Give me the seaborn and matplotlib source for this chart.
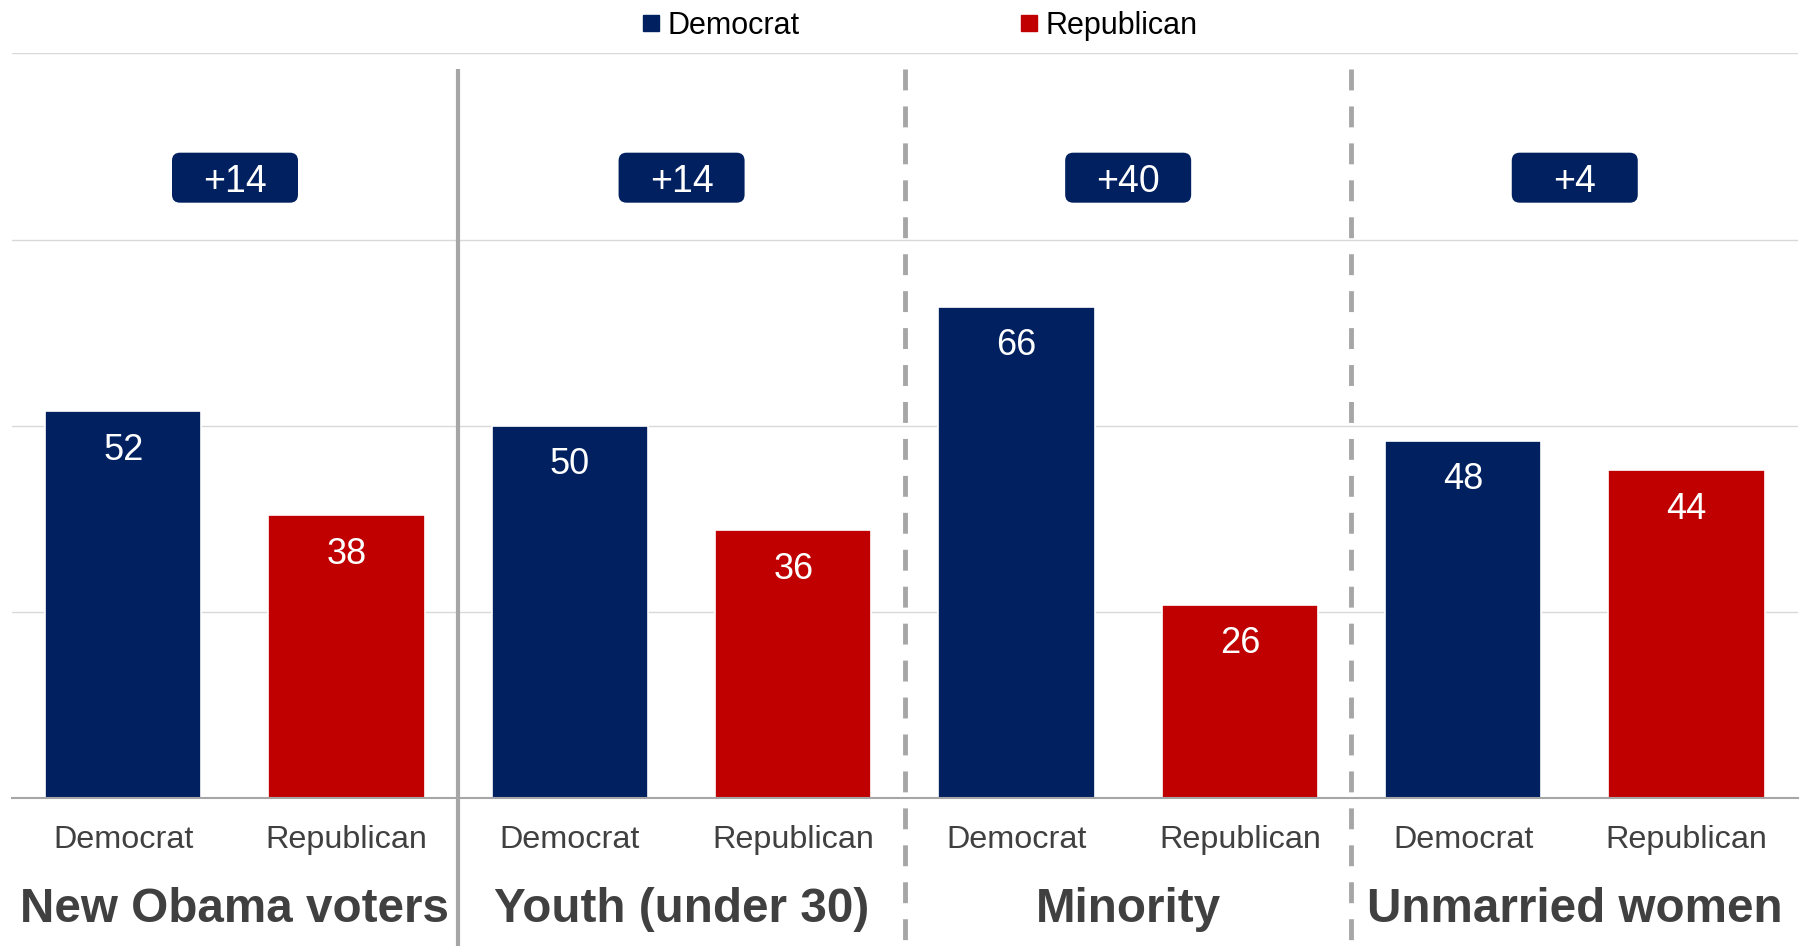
import numpy as np
import pandas as pd
import matplotlib
matplotlib.use("Agg")
import matplotlib.pyplot as plt
import matplotlib.transforms as mtransforms
from matplotlib.patches import FancyBboxPatch
from matplotlib.lines import Line2D
import seaborn as sns

# ---------------- data ----------------
groups = ["New Obama voters", "Youth (under 30)", "Minority", "Unmarried women"]
parties = ["Democrat", "Republican"]
dem_values = [52, 50, 66, 48]
rep_values = [38, 36, 26, 44]

NAVY = "#002060"
RED = "#C00000"
GRAY = "#a6a6a6"
TXT = "#404040"
colors = {"Democrat": NAVY, "Republican": RED}

sns.set_theme(style="white")
plt.rcParams["font.family"] = ["Liberation Sans", "DejaVu Sans"]

df = pd.DataFrame({
    "group": groups * 2,
    "party": ["Democrat"] * len(groups) + ["Republican"] * len(groups),
    "value": dem_values + rep_values,
})

fig = plt.figure(figsize=(18.08, 9.46), dpi=100)
ax = fig.add_axes([0.00647, 0.1561, 0.98803, 0.7876])

sns.barplot(data=df, x="group", y="value", hue="party", order=groups,
            hue_order=parties, palette=colors, width=1.0, gap=0.3,
            saturation=1, edgecolor="white", linewidth=1.2, errorbar=None,
            legend=False, ax=ax, zorder=2)

ax.set_ylim(0, 100)
ax.set_xlim(-0.5, len(groups) - 0.5)
ax.set_xlabel("")
ax.set_ylabel("")

# y grid
ax.set_yticks([0, 25, 50, 75, 100])
ax.set_yticklabels([])
ax.tick_params(axis="y", length=0)
ax.yaxis.grid(True, color="#d9d9d9", lw=1)
ax.xaxis.grid(False)
ax.set_axisbelow(True)

for s in ("left", "right", "top"):
    ax.spines[s].set_visible(False)
ax.spines["bottom"].set_color(GRAY)
ax.spines["bottom"].set_linewidth(1.5)

# x ticks: party labels under each bar, tick marks at category boundaries
xt = [i + d for i in range(len(groups)) for d in (-0.25, 0.25)]
ax.set_xticks(xt)
ax.set_xticklabels(parties * len(groups))
ax.set_xticks(np.arange(-0.5, len(groups) - 0.49, 0.5), minor=True)
ax.tick_params(axis="x", which="major", length=0, pad=19.3, labelsize=23.3,
               labelcolor=TXT)
ax.tick_params(axis="x", which="minor", length=6.5, width=1.5, color=GRAY)

# value labels inside bars
for bar in ax.patches:
    h = bar.get_height()
    if np.isnan(h) or h <= 0:
        continue
    ax.annotate(f"{h:.0f}", (bar.get_x() + bar.get_width() / 2, h),
                xytext=(0, -35), textcoords="offset points",
                ha="center", va="baseline", color="white", fontsize=26,
                zorder=4)

# separators between groups
xtrans = ax.get_xaxis_transform()
ax.plot([0.5, 0.5], [0.979, -0.2], transform=xtrans, color=GRAY, lw=3,
        clip_on=False, solid_capstyle="butt")
for xb in (1.5, 2.5):
    ax.plot([xb, xb], [0.979, -0.2], transform=xtrans, color=GRAY, lw=3.5,
            ls=(0, (4.3, 3.3)), clip_on=False)

# group labels
for i, g in enumerate(groups):
    ax.text(i, -0.1656, g, transform=xtrans, ha="center", va="baseline",
            fontsize=34.3, fontweight="bold", color=TXT)

# margin badges
badge_y = 83.3
for i, (d, r) in enumerate(zip(dem_values, rep_values)):
    t = fig.dpi_scale_trans + mtransforms.ScaledTranslation(i, badge_y, ax.transData)
    box = FancyBboxPatch((-0.63, -0.25), 1.26, 0.50,
                         boxstyle="round,pad=0,rounding_size=0.08",
                         transform=t, fc=NAVY, ec="none", zorder=3)
    ax.add_artist(box)
    diff = d - r
    ax.annotate(f"+{diff}" if diff > 0 else f"{diff}", (i, badge_y),
                xytext=(0, -10.6), textcoords="offset points",
                ha="center", va="baseline", color="white", fontsize=27,
                zorder=4)

# legend
handles = [Line2D([], [], marker="s", ls="none", markersize=11,
                  markerfacecolor=colors[p], markeredgecolor=colors[p])
           for p in parties]
fig.legend(handles, parties, loc="center", bbox_to_anchor=(0.5086, 0.973),
           ncol=2, frameon=False, handlelength=0.6, handletextpad=0.25,
           columnspacing=7.2, labelcolor="black",
           prop={"family": ["Liberation Sans Narrow", "Liberation Sans"],
                 "size": 22})

fig.savefig("out.png", dpi=100)
